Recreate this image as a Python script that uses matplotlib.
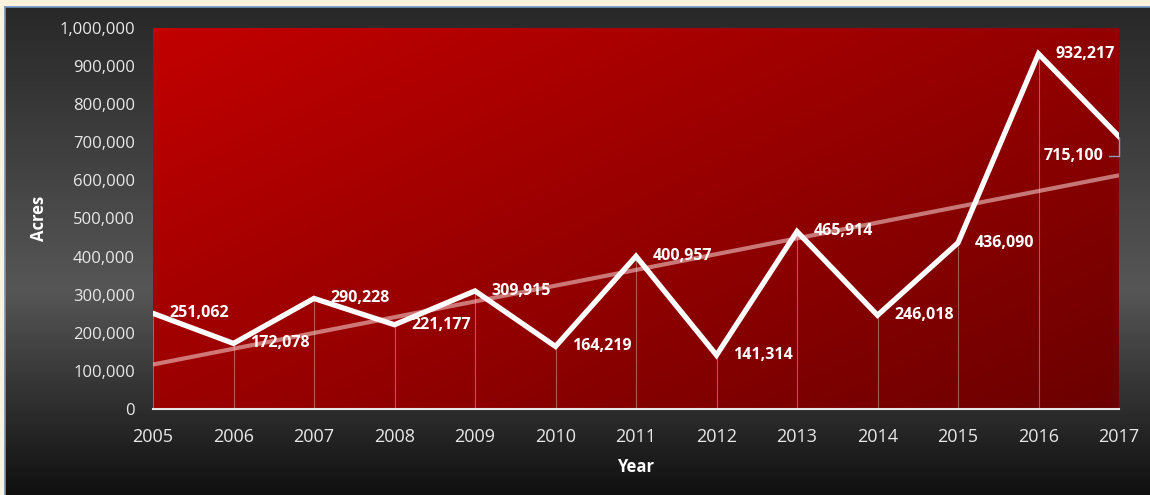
import matplotlib.pyplot as plt
import numpy as np
from matplotlib.colors import LinearSegmentedColormap
from matplotlib.ticker import FuncFormatter

plt.rcParams['font.family'] = ['Open Sans', 'DejaVu Sans']

# -------------------------
# DATA
# -------------------------
years = [2005, 2006, 2007, 2008, 2009, 2010, 2011, 2012, 2013, 2014, 2015, 2016, 2017]
acres = [251062, 172078, 290228, 221177, 309915, 164219, 400957, 141314,
         465914, 246018, 436090, 932217, 715100]

# least squares trend line
coef = np.polyfit(years, acres, 1)
trend = np.polyval(coef, years)

# -------------------------
# FIGURE + BACKGROUNDS
# -------------------------
W, H = 1150, 495
fig = plt.figure(figsize=(W / 100, H / 100), dpi=100, facecolor='#fdf3dc')

# dark panel with vertical shading
bg = fig.add_axes([5 / W, 0, (W - 5) / W, (H - 7) / H])
bg.set_axis_off()
panel = LinearSegmentedColormap.from_list(
    'panel', [(0, '#282828'), (0.58, '#565656'), (1, '#101010')])
grad = np.linspace(0, 1, 256).reshape(-1, 1)
bg.imshow(grad, cmap=panel, aspect='auto', extent=[0, 1, 0, 1], origin='upper')
bg.set_xlim(0, 1)
bg.set_ylim(0, 1)

# thin blue frame along the top and left edges
fig.add_artist(plt.Line2D([4.5 / W, 1], [1 - 6.5 / H, 1 - 6.5 / H], color='#6f98c4', lw=1.2))
fig.add_artist(plt.Line2D([4.5 / W, 4.5 / W], [0, 1 - 6.5 / H], color='#6f98c4', lw=1.2))

# plot area
left, right, top, bottom = 153, 1119, 28, 409
ax = fig.add_axes([left / W, (H - bottom) / H, (right - left) / W, (bottom - top) / H])
ax.set_facecolor('none')

# diagonal red fill, bright top-left to dark bottom-right
reds = LinearSegmentedColormap.from_list('reds', ['#c20000', '#6c0000'])
gx, gy = np.meshgrid(np.linspace(0, 1, 400), np.linspace(0, 1, 160))
ax.imshow(0.55 * gx + 0.45 * gy, cmap=reds, aspect='auto', origin='upper',
          extent=[years[0], years[-1], 0, 1_000_000], zorder=0)

# -------------------------
# PLOT
# -------------------------
ax.vlines(years, 0, acres, color='white', alpha=0.35, lw=0.8, zorder=1)
ax.plot(years, trend, color='#f2c8c8', alpha=0.6, lw=3, solid_capstyle='butt', zorder=2)
ax.plot(years, acres, color='white', lw=3.8, solid_joinstyle='miter', zorder=3)

for yr, val in zip(years[:-1], acres[:-1]):
    ax.annotate(f'{val:,}', (yr, val), xytext=(12, 0), textcoords='offset points',
                ha='left', va='center', color='white', fontsize=11.5,
                fontweight='bold', zorder=4)

# last label sits left of the point with a small leader line
ax.annotate(f'{acres[-1]:,}', (years[-1], acres[-1]), xytext=(-11, -14),
            textcoords='offset points', ha='right', va='center', color='white',
            fontsize=11.5, fontweight='bold', zorder=4,
            arrowprops=dict(arrowstyle='-', color='#8f9fb5', lw=1,
                            connectionstyle='angle,angleA=0,angleB=90,rad=0',
                            shrinkA=2, shrinkB=0))

ax.set_xlim(years[0], years[-1])
ax.set_ylim(0, 1_000_000)
ax.set_xticks(years)
ax.set_yticks(np.arange(0, 1_000_001, 100_000))
ax.yaxis.set_major_formatter(FuncFormatter(lambda v, p: f'{int(v):,}'))

for s in ['top', 'right', 'left']:
    ax.spines[s].set_visible(False)
ax.spines['bottom'].set_color('#e6e6e6')
ax.spines['bottom'].set_linewidth(1.5)
ax.spines['bottom'].set_zorder(5)

ax.tick_params(axis='both', length=0, colors='#e8e8e8', labelsize=12)
ax.tick_params(axis='y', pad=13)
ax.tick_params(axis='x', pad=13.5, labelsize=13)

ax.set_xlabel('Year', color='white', fontsize=12, fontweight='bold', labelpad=9)
ax.set_ylabel('Acres', color='white', fontsize=12, fontweight='bold', labelpad=8)

fig.savefig('out.png', dpi=100, facecolor=fig.get_facecolor())
